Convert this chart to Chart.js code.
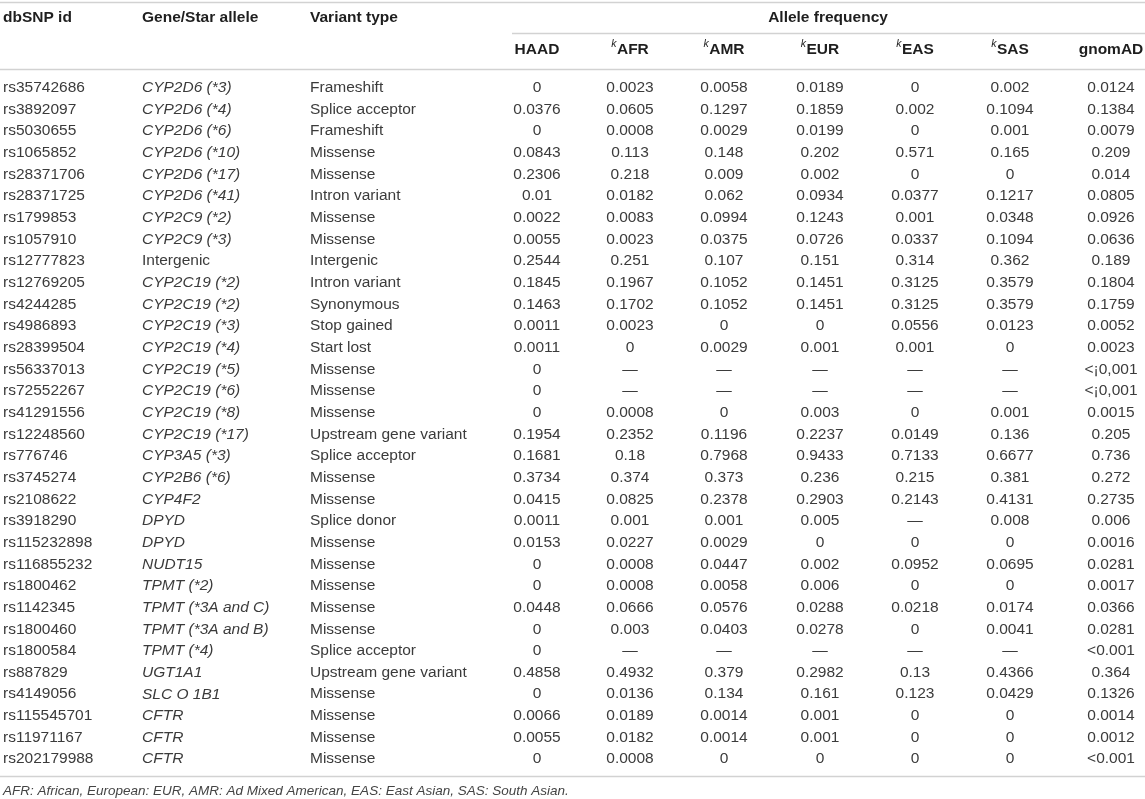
<!DOCTYPE html>
<html>
<head>
<meta charset="utf-8">
<script src="https://cdn.jsdelivr.net/npm/chart.js@4.4.1/dist/chart.umd.min.js"></script>
<style>
  html, body { margin: 0; padding: 0; background: #fff; }
  canvas { display: block; }
</style>
</head>
<body>
<canvas id="table" width="1145" height="799"></canvas>
<script>
// Row labels and text columns
const dbsnpIds = ['rs35742686','rs3892097','rs5030655','rs1065852','rs28371706','rs28371725','rs1799853','rs1057910',
  'rs12777823','rs12769205','rs4244285','rs4986893','rs28399504','rs56337013','rs72552267','rs41291556',
  'rs12248560','rs776746','rs3745274','rs2108622','rs3918290','rs115232898','rs116855232','rs1800462',
  'rs1142345','rs1800460','rs1800584','rs887829','rs4149056','rs115545701','rs11971167','rs202179988'];
const geneAlleles = ['CYP2D6 (*3)','CYP2D6 (*4)','CYP2D6 (*6)','CYP2D6 (*10)','CYP2D6 (*17)','CYP2D6 (*41)','CYP2C9 (*2)','CYP2C9 (*3)',
  'Intergenic','CYP2C19 (*2)','CYP2C19 (*2)','CYP2C19 (*3)','CYP2C19 (*4)','CYP2C19 (*5)','CYP2C19 (*6)','CYP2C19 (*8)',
  'CYP2C19 (*17)','CYP3A5 (*3)','CYP2B6 (*6)','CYP4F2','DPYD','DPYD','NUDT15','TPMT (*2)',
  'TPMT (*3A and C)','TPMT (*3A and B)','TPMT (*4)','UGT1A1','SLC O 1B1','CFTR','CFTR','CFTR'];
const variantTypes = ['Frameshift','Splice acceptor','Frameshift','Missense','Missense','Intron variant','Missense','Missense',
  'Intergenic','Intron variant','Synonymous','Stop gained','Start lost','Missense','Missense','Missense',
  'Upstream gene variant','Splice acceptor','Missense','Missense','Splice donor','Missense','Missense','Missense',
  'Missense','Missense','Splice acceptor','Upstream gene variant','Missense','Missense','Missense','Missense'];

// Allele frequencies per population (null = not reported, drawn as a dash)
const haad = [0,0.0376,0,0.0843,0.2306,0.01,0.0022,0.0055,0.2544,0.1845,0.1463,0.0011,0.0011,0,0,0,
  0.1954,0.1681,0.3734,0.0415,0.0011,0.0153,0,0,0.0448,0,0,0.4858,0,0.0066,0.0055,0];
const afr = [0.0023,0.0605,0.0008,0.113,0.218,0.0182,0.0083,0.0023,0.251,0.1967,0.1702,0.0023,0,null,null,0.0008,
  0.2352,0.18,0.374,0.0825,0.001,0.0227,0.0008,0.0008,0.0666,0.003,null,0.4932,0.0136,0.0189,0.0182,0.0008];
const amr = [0.0058,0.1297,0.0029,0.148,0.009,0.062,0.0994,0.0375,0.107,0.1052,0.1052,0,0.0029,null,null,0,
  0.1196,0.7968,0.373,0.2378,0.001,0.0029,0.0447,0.0058,0.0576,0.0403,null,0.379,0.134,0.0014,0.0014,0];
const eur = [0.0189,0.1859,0.0199,0.202,0.002,0.0934,0.1243,0.0726,0.151,0.1451,0.1451,0,0.001,null,null,0.003,
  0.2237,0.9433,0.236,0.2903,0.005,0,0.002,0.006,0.0288,0.0278,null,0.2982,0.161,0.001,0.001,0];
const eas = [0,0.002,0,0.571,0,0.0377,0.001,0.0337,0.314,0.3125,0.3125,0.0556,0.001,null,null,0,
  0.0149,0.7133,0.215,0.2143,null,0,0.0952,0,0.0218,0,null,0.13,0.123,0,0,0];
const sas = [0.002,0.1094,0.001,0.165,0,0.1217,0.0348,0.1094,0.362,0.3579,0.3579,0.0123,0,null,null,0.001,
  0.136,0.6677,0.381,0.4131,0.008,0,0.0695,0,0.0174,0.0041,null,0.4366,0.0429,0,0,0];
const gnomad = [0.0124,0.1384,0.0079,0.209,0.014,0.0805,0.0926,0.0636,0.189,0.1804,0.1759,0.0052,0.0023,'<¡0,001','<¡0,001',0.0015,
  0.205,0.736,0.272,0.2735,0.006,0.0016,0.0281,0.0017,0.0366,0.0281,'<0.001',0.364,0.1326,0.0014,0.0012,'<0.001'];

const populations = ['HAAD','AFR','AMR','EUR','EAS','SAS','gnomAD'];
const kMarked = [false,true,true,true,true,true,false];
const freqColumns = [haad, afr, amr, eur, eas, sas, gnomad];
const footnote = 'AFR: African, European: EUR, AMR: Ad Mixed American, EAS: East Asian, SAS: South Asian.';

// Layout: x in pixels (x scale runs 0..1145), text columns left aligned, numbers centred
const textColX = [3, 142, 310];
const numColX = [537, 630, 724, 820, 915, 1010, 1111];
const FONT = '"Liberation Sans", Arial, sans-serif';
const SIZE = 15.5;
const TEXT = '#3b3b3b';
const HEAD = '#1e1e1e';
const RULE = '#d2d2d2';

function cellText(v) {
  if (v === null) return '—';
  return String(v);
}

// One invisible scatter dataset per frequency column, so each cell is a point on the scales
const datasets = freqColumns.map((col, c) => ({
  label: populations[c],
  data: col.map((v, i) => ({ x: numColX[c], y: i })),
  pointRadius: 0
}));

const tablePlugin = {
  id: 'tableText',
  afterDraw(chart) {
    const ctx = chart.ctx;
    const xs = chart.scales.x;
    const ys = chart.scales.y;
    ctx.save();
    ctx.textBaseline = 'middle';

    // horizontal rules
    function rule(yv, x0, x1) {
      const y = Math.round(ys.getPixelForValue(yv)) + 0.5;
      ctx.strokeStyle = RULE;
      ctx.lineWidth = 1.5;
      ctx.beginPath();
      ctx.moveTo(xs.getPixelForValue(x0), y);
      ctx.lineTo(xs.getPixelForValue(x1), y);
      ctx.stroke();
    }
    rule(-3.98, 0, 1145);
    rule(-2.53, 512, 1145);
    rule(-0.87, 0, 1145);
    rule(31.78, 0, 1145);

    // header row 1
    ctx.fillStyle = HEAD;
    ctx.font = 'bold ' + SIZE + 'px ' + FONT;
    ctx.textAlign = 'left';
    const h1 = ys.getPixelForValue(-3.22);
    ctx.fillText('dbSNP id', xs.getPixelForValue(textColX[0]), h1);
    ctx.fillText('Gene/Star allele', xs.getPixelForValue(textColX[1]), h1);
    ctx.fillText('Variant type', xs.getPixelForValue(textColX[2]), h1);
    ctx.textAlign = 'center';
    ctx.fillText('Allele frequency', xs.getPixelForValue(828), h1);

    // header row 2, population names with superscript k
    const h2 = ys.getPixelForValue(-1.76);
    populations.forEach((p, c) => {
      const cx = xs.getPixelForValue(numColX[c]);
      ctx.font = 'bold ' + SIZE + 'px ' + FONT;
      const wl = ctx.measureText(p).width;
      let wk = 0;
      if (kMarked[c]) {
        ctx.font = 'italic 10.5px ' + FONT;
        wk = ctx.measureText('k').width + 0.5;
      }
      const start = cx - (wl + wk) / 2;
      ctx.textAlign = 'left';
      if (kMarked[c]) {
        ctx.font = 'italic 10.5px ' + FONT;
        ctx.fillText('k', start, h2 - 6);
      }
      ctx.font = 'bold ' + SIZE + 'px ' + FONT;
      ctx.fillText(p, start + wk, h2);
    });

    // body rows
    ctx.fillStyle = TEXT;
    dbsnpIds.forEach((id, i) => {
      const y = ys.getPixelForValue(i);
      ctx.textAlign = 'left';
      ctx.font = SIZE + 'px ' + FONT;
      ctx.fillText(id, xs.getPixelForValue(textColX[0]), y);
      ctx.font = (geneAlleles[i] === 'Intergenic' ? '' : 'italic ') + SIZE + 'px ' + FONT;
      ctx.fillText(geneAlleles[i], xs.getPixelForValue(textColX[1]), y);
      ctx.font = SIZE + 'px ' + FONT;
      ctx.fillText(variantTypes[i], xs.getPixelForValue(textColX[2]), y);
    });

    // frequency cells, placed at each dataset point
    ctx.textAlign = 'center';
    ctx.font = SIZE + 'px ' + FONT;
    chart.data.datasets.forEach((ds, c) => {
      const meta = chart.getDatasetMeta(c);
      meta.data.forEach((pt, i) => {
        ctx.fillText(cellText(freqColumns[c][i]), pt.x, pt.y);
      });
    });

    // footnote
    ctx.textAlign = 'left';
    ctx.font = 'italic 13.5px ' + FONT;
    ctx.fillStyle = '#444';
    ctx.fillText(footnote, xs.getPixelForValue(3), ys.getPixelForValue(32.5));
    ctx.restore();
  }
};

new Chart(document.getElementById('table'), {
  type: 'scatter',
  data: { datasets },
  options: {
    responsive: false,
    animation: false,
    devicePixelRatio: 1,
    layout: { padding: { left: 0, right: 0, top: 77, bottom: 29 } },
    plugins: { legend: { display: false }, tooltip: { enabled: false } },
    scales: {
      x: { type: 'linear', min: 0, max: 1145, display: false },
      y: { type: 'linear', min: -0.5, max: dbsnpIds.length - 0.5, reverse: true, display: false }
    }
  },
  plugins: [tablePlugin]
});
</script>
</body>
</html>
